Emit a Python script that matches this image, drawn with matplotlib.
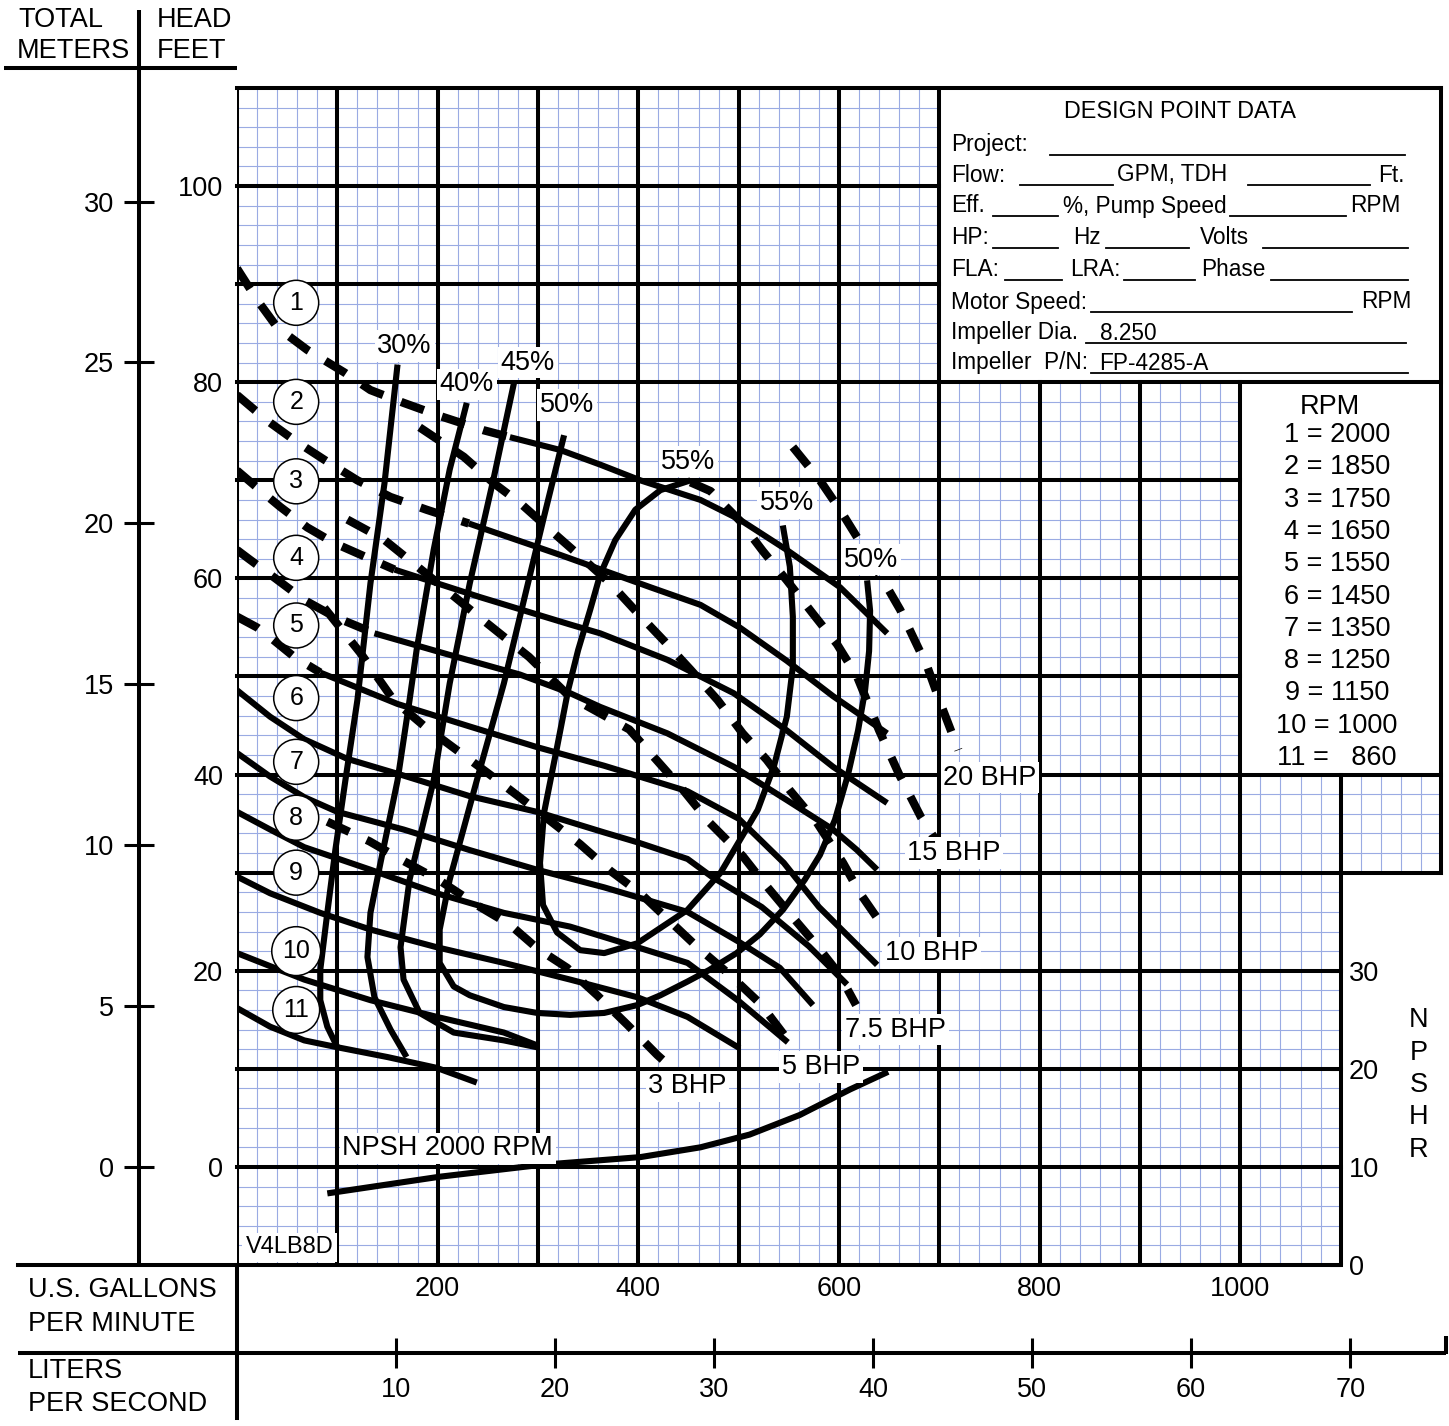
import numpy as np
import matplotlib.pyplot as plt
from matplotlib.patches import Rectangle

plt.rcParams['font.family'] = ['Liberation Sans', 'DejaVu Sans']

# ---------------- data (flow in US GPM, head in feet) ----------------
gpm_ticks = [200, 400, 600, 800, 1000]
feet_ticks = [0, 20, 40, 60, 80, 100]
meter_ticks = [0, 5, 10, 15, 20, 25, 30]
lps_ticks = [10, 20, 30, 40, 50, 60, 70]
npshr_ticks = [0, 10, 20, 30]

curve_ids = ['1', '2', '3', '4', '5', '6', '7', '8', '9', '10', '11']
rpm_values = [2000, 1850, 1750, 1650, 1550, 1450, 1350, 1250, 1150, 1000, 860]

# head curves: dashed (unstable) part, then solid part
h1_dash_q = [0, 20, 40, 70, 107, 133, 166, 204, 246, 272]
h1_dash_h = [91.6, 88.4, 85.6, 83.3, 81.0, 79.2, 77.9, 76.5, 75.1, 74.4]
h1_q = [272, 322, 362, 402, 462, 501, 548, 601, 648]
h1_h = [74.4, 73.1, 71.6, 70.0, 68.0, 66.0, 62.9, 59.1, 54.4]

h2_dash_q = [0, 30, 57, 87, 120, 153, 189, 231]
h2_dash_h = [78.7, 76.1, 74.1, 72.1, 70.0, 68.3, 67.0, 65.6]
h2_q = [231, 322, 412, 462, 501, 548, 594, 648]
h2_h = [65.6, 62.4, 59.1, 57.3, 55.0, 51.6, 48.0, 44.2]

h3_dash_q = [0, 23, 43, 70, 97, 128, 157]
h3_dash_h = [71.0, 69.0, 67.3, 65.2, 63.6, 62.2, 60.9]
h3_q = [157, 242, 332, 362, 429, 495, 548, 594, 648]
h3_h = [60.9, 58.1, 55.3, 54.4, 51.7, 48.3, 44.5, 40.8, 37.1]

h4_dash_q = [0, 13, 37, 67, 97, 137]
h4_dash_h = [62.9, 61.9, 60.1, 57.8, 56.1, 54.4]
h4_q = [137, 212, 282, 332, 362, 429, 495, 548, 594, 618, 638]
h4_h = [54.4, 52.2, 50.2, 48.3, 46.9, 44.2, 40.8, 37.4, 34.4, 32.3, 30.3]

h5_dash_q = [0, 20, 33, 57, 83]
h5_dash_h = [56.1, 55.0, 54.0, 52.0, 50.4]
h5_q = [83, 160, 232, 299, 366, 449, 500, 545, 580, 638]
h5_h = [50.4, 47.2, 44.9, 42.8, 40.9, 38.3, 35.5, 31.0, 26.5, 20.6]

h6_q = [0, 33, 67, 110, 166, 232, 299, 366, 399, 449, 473, 523, 570, 608]
h6_h = [48.6, 45.9, 43.6, 41.6, 39.9, 37.8, 36.2, 34.1, 33.1, 31.4, 29.6, 26.5, 22.5, 18.6]

h7_q = [0, 33, 67, 100, 166, 232, 299, 366, 449, 501, 541, 574]
h7_h = [42.2, 39.8, 37.7, 36.2, 34.4, 32.3, 30.3, 28.5, 26.0, 22.9, 20.3, 16.5]

h8_q = [0, 33, 67, 133, 199, 266, 332, 399, 449, 499, 549]
h8_h = [36.2, 34.4, 32.6, 30.3, 27.9, 25.9, 24.5, 22.4, 20.8, 17.0, 12.7]

h9_q = [0, 33, 83, 133, 199, 266, 332, 399, 449, 501]
h9_h = [29.6, 27.9, 25.9, 24.2, 22.4, 20.8, 19.1, 17.3, 15.3, 12.1]

h10_q = [0, 67, 133, 199, 266, 299]
h10_h = [21.8, 19.1, 17.0, 15.3, 13.7, 12.4]

h11_q = [0, 33, 67, 100, 150, 199, 239]
h11_h = [16.2, 14.3, 12.9, 12.2, 11.2, 10.1, 8.6]

# efficiency curves
e30_q = [160, 147, 133, 120, 108, 98, 90, 83, 83, 90, 100]
e30_h = [81.8, 69.7, 59.5, 47.6, 39.4, 32.3, 25.9, 20.1, 17.0, 14.3, 12.2]

e40_q = [229, 212, 196, 179, 172, 160, 143, 133, 130, 137, 153, 169]
e40_h = [77.9, 71.1, 62.9, 52.7, 47.6, 39.4, 31.0, 25.9, 21.4, 17.3, 14.0, 11.2]

e45_q = [276, 256, 232, 212, 196, 172, 163, 166, 182, 216, 266, 299]
e45_h = [79.9, 70.3, 59.5, 49.3, 39.4, 29.3, 22.4, 19.1, 15.7, 13.7, 12.9, 12.2]

e50_q = [326, 306, 286, 266, 239, 212, 202, 202, 216, 232, 266, 299, 332, 366,
         399, 422, 449, 471, 498, 521, 544, 566, 581, 596, 609, 619, 626, 630, 631, 628]
e50_h = [74.6, 66.3, 57.8, 49.3, 39.4, 29.3, 24.2, 20.8, 18.4, 17.5, 16.3, 15.7,
         15.5, 15.7, 16.5, 17.5, 18.9, 20.1, 21.8, 23.7, 26.2, 29.3, 31.8, 35.4,
         40.0, 44.5, 48.6, 52.6, 56.7, 59.8]

e55_q = [452, 422, 397, 377, 362, 352, 340, 330, 319, 306, 302, 305,
         319, 342, 366, 399, 449, 482, 519, 535, 548, 554, 554, 551, 544]
e55_h = [70.0, 69.0, 67.0, 63.9, 60.4, 56.8, 52.7, 48.6, 42.8, 36.1,
         31.0, 26.7, 23.9, 22.1, 21.8, 22.8, 26.2, 30.0, 36.4, 40.8, 45.9, 51.0,
         56.1, 61.2, 65.4]

# brake horsepower lines
bhp20_q = [554, 581, 601, 618, 644, 661, 674, 688, 701, 719]
bhp20_h = [73.4, 70.0, 67.0, 64.2, 59.8, 56.8, 54.0, 51.0, 47.3, 42.5]

bhp15_q = [452, 472, 501, 524, 548, 574, 598, 618, 640, 660, 682, 696]
bhp15_h = [69.8, 68.9, 65.9, 62.8, 59.8, 56.4, 53.3, 50.0, 44.5, 40.0, 35.6, 33.4]

bhp10_q = [182, 226, 256, 282, 316, 346, 372, 399, 425, 452, 479, 504, 528,
           551, 578, 604, 621, 644]
bhp10_h = [75.4, 72.4, 69.7, 67.7, 64.6, 61.9, 59.5, 56.5, 53.7, 50.7, 47.6,
           44.2, 41.5, 38.4, 35.1, 31.0, 27.9, 24.5]

bhp75_q = [110, 146, 192, 241, 291, 331, 391, 418, 444, 471, 504, 524, 551, 576, 600, 617]
bhp75_h = [66.0, 64.0, 60.2, 56.1, 52.0, 48.0, 44.6, 41.5, 38.5, 35.1, 31.7, 29.1, 25.8, 22.8, 19.7, 16.5]

bhp5_q = [87, 123, 156, 186, 219, 252, 279, 312, 342, 372, 402, 431, 459, 490, 522, 545]
bhp5_h = [57.0, 52.4, 47.6, 45.0, 42.5, 40.0, 37.9, 35.3, 32.9, 30.2, 27.9, 25.1, 22.4, 19.7, 16.6, 13.5]

bhp3_q = [90, 132, 166, 202, 239, 272, 299, 329, 359, 389, 419, 430]
bhp3_h = [35.2, 33.2, 31.2, 29.2, 26.7, 24.7, 22.3, 20.3, 17.5, 14.5, 11.4, 10.4]

# NPSH required at 2000 RPM (feet)
npsh_q = [90, 202, 302, 402, 462, 511, 561, 611, 649]
npsh_r = [7.3, 9.0, 10.2, 11.0, 12.0, 13.3, 15.3, 17.9, 19.7]

# ---------------- figure ----------------
W, H = 1449, 1426
fig = plt.figure(figsize=(W / 100, H / 100), dpi=100)


def px_box(left, top, right, bottom):
    return [left / W, 1 - bottom / H, (right - left) / W, (bottom - top) / H]


ax = fig.add_axes(px_box(237, 88, 1441, 1265))
ax.set_xlim(0, 1200)
ax.set_ylim(-10, 110)
for s in ax.spines.values():
    s.set_visible(False)

blue = '#9aabe3'
major_lw = 2.9
fs = 19.5

# minor grid (every 20 GPM / 2 ft)
minor_x = [q for q in range(20, 1200, 20) if q % 100]
minor_y = [h for h in range(-8, 110, 2) if h % 10]
ax.vlines(minor_x, -10, 110, colors=blue, lw=0.8, zorder=1)
ax.hlines(minor_y, 0, 1200, colors=blue, lw=0.8, zorder=1)

# white panels (design box, rpm box, blank corner)
for x0, y0, w, h in [(700, 80, 500, 30), (1000, 40, 200, 40), (1100, -10, 100, 40)]:
    ax.add_patch(Rectangle((x0, y0), w, h, fc='white', ec='none', zorder=2))

# heavy grid
gk = dict(color='k', lw=major_lw, zorder=3, solid_capstyle='projecting')
for q in range(0, 701, 100):
    ax.plot([q, q], [-10, 110], **gk)
for q in (800, 900, 1000):
    ax.plot([q, q], [-10, 80], **gk)
ax.plot([1100, 1100], [-10, 40], **gk)
ax.plot([1200, 1200], [30, 110], clip_on=False, **gk)
ax.plot([0, 0], [-10, -25.6], clip_on=False, **gk)
hl = {110: 1200, 100: 700, 90: 700, 80: 1200, 70: 1000, 60: 1000, 50: 1000,
      40: 1200, 30: 1200, 20: 1100, 10: 1100, 0: 1100}
for h, right in hl.items():
    ax.plot([0, right], [h, h], clip_on=False, **gk)
ax.plot([-218, 1100], [-10, -10], clip_on=False, **gk)

# curves
dash_kw = dict(color='k', lw=6.0, dashes=(2.9, 2.3), zorder=5, dash_capstyle='butt')
solid_kw = dict(color='k', lw=4.4, zorder=5, solid_capstyle='butt', solid_joinstyle='round')

for q, h in [(h1_dash_q, h1_dash_h), (h2_dash_q, h2_dash_h), (h3_dash_q, h3_dash_h),
             (h4_dash_q, h4_dash_h), (h5_dash_q, h5_dash_h)]:
    ax.plot(q, h, **dash_kw)
for q, h in [(h1_q, h1_h), (h2_q, h2_h), (h3_q, h3_h), (h4_q, h4_h), (h5_q, h5_h),
             (h6_q, h6_h), (h7_q, h7_h), (h8_q, h8_h), (h9_q, h9_h), (h10_q, h10_h),
             (h11_q, h11_h)]:
    ax.plot(q, h, **solid_kw)
for q, h in [(e30_q, e30_h), (e40_q, e40_h), (e45_q, e45_h), (e50_q, e50_h), (e55_q, e55_h)]:
    ax.plot(q, h, **solid_kw)
for q, h in [(bhp20_q, bhp20_h), (bhp15_q, bhp15_h), (bhp10_q, bhp10_h),
             (bhp75_q, bhp75_h), (bhp5_q, bhp5_h), (bhp3_q, bhp3_h)]:
    ax.plot(q, h, **dash_kw)
ax.plot(npsh_q, np.array(npsh_r) - 10, **solid_kw)

# labels on the chart
lab_kw = dict(fontsize=fs, zorder=8,
              bbox=dict(boxstyle='square,pad=0.1', fc='white', ec='none'))
for txt, q, h in [('30%', 167, 83.7), ('40%', 229, 79.8), ('45%', 290, 82.0),
                  ('50%', 329, 77.7), ('55%', 450, 71.9), ('55%', 548, 67.7),
                  ('50%', 632, 61.9)]:
    ax.text(q, h, txt, ha='center', va='center', **lab_kw)
for txt, q, h in [('20 BHP', 704, 39.7), ('15 BHP', 668, 32.0), ('10 BHP', 646, 21.8),
                  ('7.5 BHP', 606, 14.0), ('5 BHP', 543, 10.2), ('3 BHP', 410, 8.2)]:
    ax.text(q, h, txt, ha='left', va='center', **lab_kw)
ax.text(105, 1.9, 'NPSH 2000 RPM', ha='left', va='center', **lab_kw)
ax.text(9, -8.2, 'V4LB8D', ha='left', va='center', fontsize=17, zorder=8,
        bbox=dict(boxstyle='square,pad=0.15', fc='white', ec='none'))

circle_h = [88.1, 78.0, 69.9, 62.1, 55.2, 47.8, 41.3, 35.6, 30.0, 22.0, 16.0]
for cid, h in zip(curve_ids, circle_h):
    ax.text(59, h, cid, ha='center', va='center', fontsize=18, zorder=9,
            bbox=dict(boxstyle='circle,pad=0.42', fc='white', ec='k', lw=1.1))

# axis ticks and labels
ax.set_xticks(gpm_ticks)
ax.set_yticks(feet_ticks)
ax.tick_params(axis='both', length=0, labelsize=fs)
ax.tick_params(axis='x', pad=8)
ax.tick_params(axis='y', pad=10)

sec_m = ax.secondary_yaxis(-98 / 1204, functions=(lambda f: f / 3.2808, lambda m: m * 3.2808))
sec_m.set_yticks(meter_ticks)
sec_m.spines['left'].set_visible(False)
sec_m.tick_params(direction='inout', length=22, width=2.2, labelsize=fs, pad=7)

sec_l = ax.secondary_xaxis(-88 / 1177, functions=(lambda q: q / 15.85, lambda l: l * 15.85))
sec_l.set_xticks(lps_ticks)
sec_l.spines['bottom'].set_visible(False)
sec_l.tick_params(direction='inout', length=22, width=2.2, labelsize=fs, pad=6)

sec_n = ax.secondary_yaxis(1100 / 1200, functions=(lambda f: f + 10, lambda n: n - 10))
sec_n.set_yticks(npshr_ticks)
sec_n.spines['right'].set_visible(False)
sec_n.tick_params(direction='in', length=8, width=2.2, labelsize=fs, pad=6)
sec_n.set_zorder(10)

# ---------------- decorations in pixel space ----------------
deco = fig.add_axes([0, 0, 1, 1])
deco.set_xlim(0, W)
deco.set_ylim(H, 0)
deco.axis('off')
lk = dict(color='k', lw=2.9, solid_capstyle='butt')
deco.plot([139, 139], [10, 1265], **lk)
deco.plot([4, 237], [68, 68], **lk)
deco.plot([18, 1446], [1353, 1353], **lk)
deco.plot([1446, 1446], [1336, 1354], **lk)

tk = dict(fontsize=fs, va='center', ha='left')
deco.text(18, 20, 'TOTAL', **tk)
deco.text(17, 51, 'METERS', **tk)
deco.text(157, 20, 'HEAD', **tk)
deco.text(157, 51, 'FEET', **tk)
deco.text(28, 1290, 'U.S. GALLONS', **tk)
deco.text(28, 1324, 'PER MINUTE', **tk)
deco.text(28, 1371, 'LITERS', **tk)
deco.text(28, 1404, 'PER SECOND', **tk)
for i, ch in enumerate('NPSHR'):
    deco.text(1419, 1020 + i * 32.5, ch, fontsize=fs, ha='center', va='center')

# design point box
dk = dict(fontsize=16.3, va='center', ha='left')
deco.text(1180, 111, 'DESIGN POINT DATA', fontsize=16.8, ha='center', va='center')
rows = [
    (145, [(951, 'Project:')], [(1050, 1405)]),
    (175, [(951, 'Flow:'), (1117, 'GPM, TDH'), (1378, 'Ft.')], [(1020, 1113), (1248, 1370)]),
    (206, [(951, 'Eff.'), (1063, '%, Pump Speed'), (1350, 'RPM')], [(993, 1058), (1230, 1346)]),
    (238, [(951, 'HP:'), (1073, 'Hz'), (1200, 'Volts')], [(993, 1058), (1106, 1189), (1263, 1408)]),
    (270, [(951, 'FLA:'), (1070, 'LRA:'), (1201, 'Phase')], [(1005, 1062), (1124, 1195), (1271, 1408)]),
    (302, [(951, 'Motor Speed:'), (1361, 'RPM')], [(1091, 1352)]),
    (333, [(951, 'Impeller Dia.'), (1100, '8.250')], [(1086, 1406)]),
    (363, [(951, 'Impeller  P/N:'), (1099, 'FP-4285-A')], [(1091, 1408)]),
]
for y, texts, lines in rows:
    for x, t in texts:
        deco.text(x, y, t, **dk)
    for x0, x1 in lines:
        deco.plot([x0, x1], [y + 10, y + 10], color='k', lw=1.3)

# rpm legend box
deco.text(1330, 407, 'RPM', fontsize=fs, ha='center', va='center')
for i, (cid, rpm) in enumerate(zip(curve_ids, rpm_values)):
    label = f'{cid} = {rpm}' if rpm >= 1000 else f'{cid} =   {rpm}'
    deco.text(1337, 435 + i * 32.3, label, fontsize=fs, ha='center', va='center')

fig.savefig('out.png', dpi=100)
